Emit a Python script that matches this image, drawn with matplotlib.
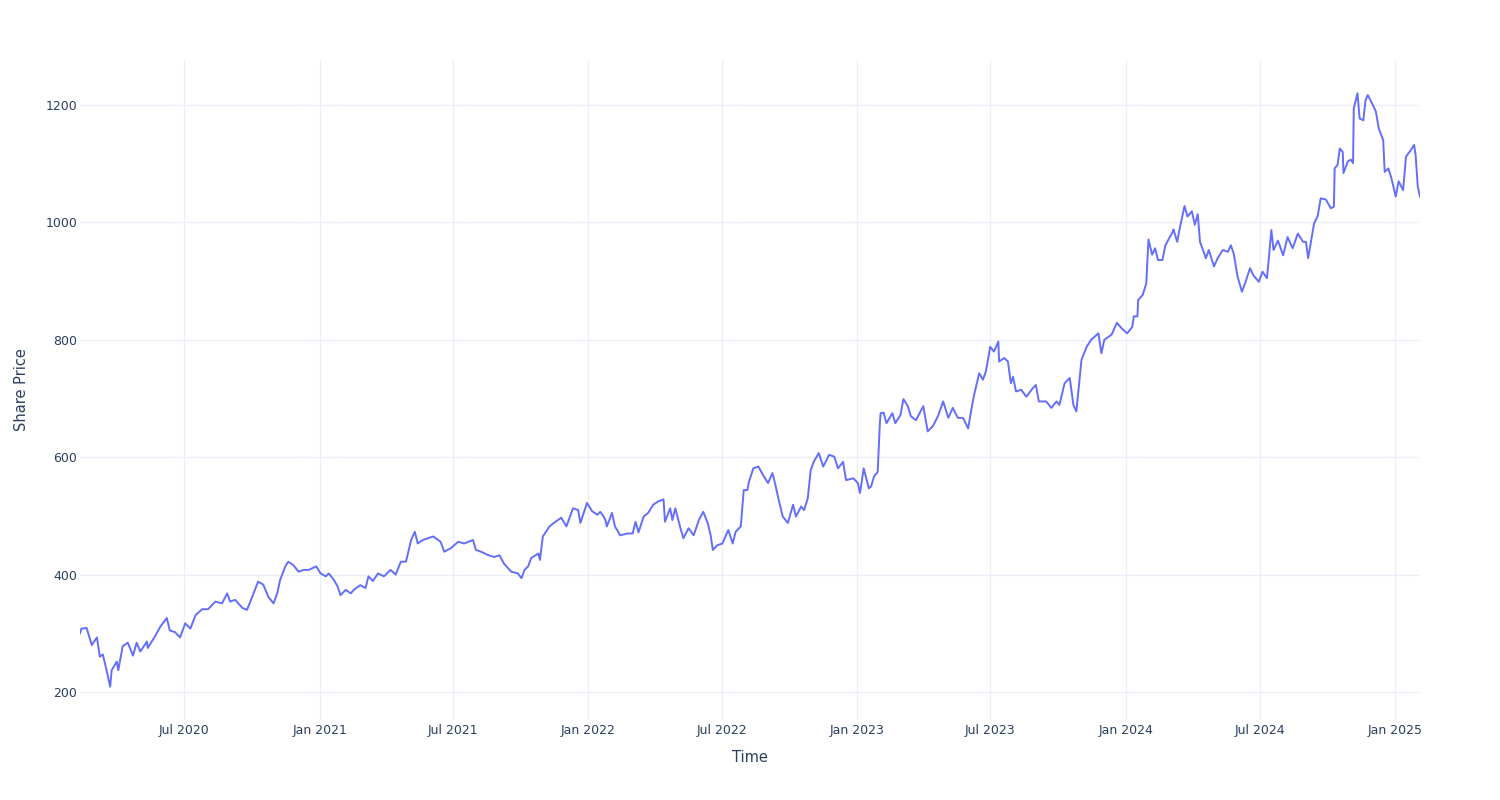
import pandas as pd
import matplotlib.pyplot as plt
import matplotlib.dates as mdates

# share price
dates = [
    "2020-02-10", "2020-02-12", "2020-02-19", "2020-02-26", "2020-03-04", "2020-03-08",
    "2020-03-12", "2020-03-18", "2020-03-22", "2020-03-24", "2020-03-31", "2020-04-02",
    "2020-04-08", "2020-04-15", "2020-04-22", "2020-04-27", "2020-05-02", "2020-05-11",
    "2020-05-12", "2020-05-22", "2020-05-29", "2020-06-07", "2020-06-11", "2020-06-18",
    "2020-06-25", "2020-07-02", "2020-07-09", "2020-07-16", "2020-07-25", "2020-08-02",
    "2020-08-12", "2020-08-21", "2020-08-28", "2020-09-01", "2020-09-08", "2020-09-12",
    "2020-09-18", "2020-09-24", "2020-10-01", "2020-10-09", "2020-10-16", "2020-10-23",
    "2020-10-30", "2020-11-04", "2020-11-08", "2020-11-15", "2020-11-19", "2020-11-26",
    "2020-12-03", "2020-12-10", "2020-12-17", "2020-12-27",
    "2021-01-02", "2021-01-09", "2021-01-13", "2021-01-20", "2021-01-25", "2021-01-29",
    "2021-02-05", "2021-02-12", "2021-02-16", "2021-02-25", "2021-03-04", "2021-03-08",
    "2021-03-14", "2021-03-21", "2021-03-29", "2021-04-07", "2021-04-14", "2021-04-21",
    "2021-04-28", "2021-05-05", "2021-05-10", "2021-05-14", "2021-05-21", "2021-06-04",
    "2021-06-14", "2021-06-19", "2021-06-28", "2021-07-08", "2021-07-16", "2021-07-28",
    "2021-08-01", "2021-08-08", "2021-08-18", "2021-08-26", "2021-09-02", "2021-09-08",
    "2021-09-18", "2021-09-27", "2021-10-02", "2021-10-06", "2021-10-11", "2021-10-15",
    "2021-10-25", "2021-10-27", "2021-10-31", "2021-11-09", "2021-11-15", "2021-11-25",
    "2021-12-02", "2021-12-11", "2021-12-18", "2021-12-21", "2021-12-30",
    "2022-01-06", "2022-01-13", "2022-01-17", "2022-01-21", "2022-01-24", "2022-01-26",
    "2022-02-02", "2022-02-06", "2022-02-13", "2022-02-23", "2022-03-02", "2022-03-06",
    "2022-03-10", "2022-03-17", "2022-03-23", "2022-03-30", "2022-04-06", "2022-04-13",
    "2022-04-15", "2022-04-22", "2022-04-25", "2022-04-29", "2022-05-06", "2022-05-10",
    "2022-05-17", "2022-05-24", "2022-05-31", "2022-06-06", "2022-06-12", "2022-06-16",
    "2022-06-19", "2022-06-25", "2022-07-02", "2022-07-10", "2022-07-16", "2022-07-20",
    "2022-07-27", "2022-07-31", "2022-08-05", "2022-08-07", "2022-08-13", "2022-08-20",
    "2022-08-26", "2022-09-02", "2022-09-08", "2022-09-12", "2022-09-16", "2022-09-22",
    "2022-09-29", "2022-10-06", "2022-10-10", "2022-10-17", "2022-10-21", "2022-10-26",
    "2022-10-30", "2022-11-03", "2022-11-10", "2022-11-16", "2022-11-24", "2022-12-01",
    "2022-12-06", "2022-12-13", "2022-12-17", "2022-12-27",
    "2023-01-02", "2023-01-05", "2023-01-10", "2023-01-17", "2023-01-20", "2023-01-24",
    "2023-01-29", "2023-02-01", "2023-02-02", "2023-02-06", "2023-02-10", "2023-02-18",
    "2023-02-22", "2023-03-01", "2023-03-05", "2023-03-11", "2023-03-15", "2023-03-22",
    "2023-04-01", "2023-04-07", "2023-04-14", "2023-04-21", "2023-04-28", "2023-05-05",
    "2023-05-11", "2023-05-18", "2023-05-25", "2023-06-01", "2023-06-05", "2023-06-09",
    "2023-06-16", "2023-06-21", "2023-06-25", "2023-07-01", "2023-07-06", "2023-07-12",
    "2023-07-13", "2023-07-20", "2023-07-25", "2023-07-29", "2023-08-01", "2023-08-05",
    "2023-08-12", "2023-08-19", "2023-08-28", "2023-09-01", "2023-09-05", "2023-09-15",
    "2023-09-22", "2023-09-29", "2023-10-03", "2023-10-10", "2023-10-17", "2023-10-22",
    "2023-10-26", "2023-11-02", "2023-11-09", "2023-11-15", "2023-11-25", "2023-11-29",
    "2023-12-03", "2023-12-13", "2023-12-20", "2023-12-27",
    "2024-01-03", "2024-01-10", "2024-01-12", "2024-01-17", "2024-01-18", "2024-01-24",
    "2024-01-29", "2024-02-01", "2024-02-06", "2024-02-10", "2024-02-14", "2024-02-20",
    "2024-02-24", "2024-03-05", "2024-03-06", "2024-03-11", "2024-03-15", "2024-03-21",
    "2024-03-25", "2024-03-31", "2024-04-04", "2024-04-08", "2024-04-11", "2024-04-16",
    "2024-04-19", "2024-04-23", "2024-04-30", "2024-05-05", "2024-05-12", "2024-05-19",
    "2024-05-23", "2024-05-27", "2024-06-01", "2024-06-07", "2024-06-12", "2024-06-18",
    "2024-06-23", "2024-06-30", "2024-07-05", "2024-07-11", "2024-07-13", "2024-07-17",
    "2024-07-20", "2024-07-26", "2024-08-02", "2024-08-08", "2024-08-15", "2024-08-22",
    "2024-08-29", "2024-09-02", "2024-09-05", "2024-09-13", "2024-09-18", "2024-09-22",
    "2024-09-29", "2024-10-06", "2024-10-10", "2024-10-11", "2024-10-15", "2024-10-18",
    "2024-10-22", "2024-10-23", "2024-10-29", "2024-11-02", "2024-11-05", "2024-11-06",
    "2024-11-11", "2024-11-14", "2024-11-19", "2024-11-22", "2024-11-25", "2024-12-02",
    "2024-12-06", "2024-12-10", "2024-12-16", "2024-12-18", "2024-12-23", "2024-12-27",
    "2025-01-02", "2025-01-06", "2025-01-12", "2025-01-16", "2025-01-23", "2025-01-27",
    "2025-01-29", "2025-02-01", "2025-02-04",
]
prices = [
    300, 308, 309, 280, 293, 260,
    264, 232, 209, 237, 252, 237,
    278, 284, 262, 284, 269, 286,
    275, 295, 311, 326, 305, 302,
    293, 317, 308, 331, 341, 341,
    354, 351, 368, 354, 357, 351,
    343, 340, 362, 388, 383, 362,
    351, 368, 391, 414, 422, 416,
    405, 408, 408, 414,
    402, 397, 402, 391, 380, 365,
    374, 368, 374, 382, 377, 397,
    389, 402, 397, 408, 400, 422,
    422, 459, 473, 453, 459, 465,
    456, 439, 445, 456, 453, 459,
    442, 439, 433, 430, 433, 419,
    405, 402, 394, 408, 414, 428,
    436, 425, 465, 482, 488, 497,
    482, 513, 510, 488, 522,
    508, 502, 507, 500, 493, 482,
    505, 482, 467, 470, 470, 490,
    472, 499, 505, 519, 525, 528,
    490, 513, 493, 513, 479, 462,
    479, 467, 493, 507, 488, 467,
    442, 450, 453, 476, 453, 473,
    482, 544, 544, 558, 581, 584,
    570, 556, 573, 553, 530, 499,
    488, 519, 499, 516, 510, 530,
    578, 592, 607, 584, 604, 601,
    581, 592, 561, 564,
    556, 539, 581, 547, 550, 567,
    575, 658, 675, 676, 658, 675,
    658, 672, 699, 687, 670, 663,
    687, 644, 653, 670, 695, 667,
    684, 667, 667, 649, 679, 706,
    743, 732, 746, 788, 780, 797,
    763, 769, 763, 726, 737, 712,
    715, 703, 718, 723, 695, 695,
    684, 695, 689, 726, 735, 689,
    678, 766, 788, 800, 811, 777,
    800, 809, 829, 819,
    811, 822, 840, 840, 868, 876,
    896, 971, 945, 956, 936, 936,
    961, 984, 988, 967, 993, 1028,
    1010, 1019, 996, 1014, 967, 950,
    939, 953, 925, 939, 953, 950,
    961, 946, 908, 882, 899, 922,
    909, 899, 916, 905, 931, 987,
    953, 969, 944, 975, 956, 981,
    967, 967, 939, 998, 1011, 1041,
    1039, 1024, 1027, 1092, 1098, 1126,
    1120, 1084, 1104, 1107, 1101, 1194,
    1220, 1177, 1174, 1208, 1217, 1200,
    1189, 1160, 1140, 1086, 1092, 1076,
    1044, 1070, 1055, 1112, 1124, 1132,
    1115, 1061, 1044,
]
y_ticks = [200, 400, 600, 800, 1000, 1200]

df = pd.DataFrame({"Time": pd.to_datetime(dates), "Share Price": prices})

text_col = "#2a3f5f"
grid_col = "#ebf0f8"

fig = plt.figure(figsize=(15, 8), dpi=100)
# plot area in pixels: x 80..1420, y 60..720
ax = fig.add_axes([80 / 1500, 80 / 800, 1340 / 1500, 660 / 800])

ax.plot(df["Time"], df["Share Price"], color="#636efa", linewidth=1.4)

ax.set_xlim(df["Time"].min(), df["Time"].max())
ax.set_ylim(152.3, 1276.7)

ax.set_yticks(y_ticks)
ax.xaxis.set_major_locator(mdates.MonthLocator(bymonth=[1, 7]))
ax.xaxis.set_major_formatter(mdates.DateFormatter("%b %Y"))

ax.grid(True, color=grid_col, linewidth=1)
ax.set_axisbelow(True)
for s in ax.spines.values():
    s.set_visible(False)

ax.tick_params(axis="both", length=0, labelsize=9, labelcolor=text_col)
ax.tick_params(axis="x", pad=3)
ax.tick_params(axis="y", pad=2)

ax.set_xlabel("Time", fontsize=10.5, color=text_col, labelpad=9)
ax.set_ylabel("Share Price", fontsize=10.5, color=text_col, labelpad=12)

fig.savefig("out.png")
